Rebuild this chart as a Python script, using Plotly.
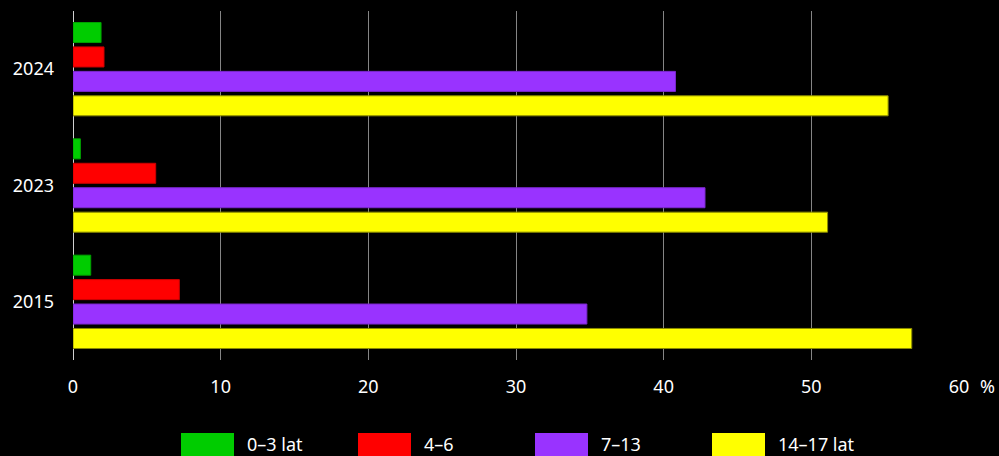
import plotly.graph_objects as go

years = ["2024", "2023", "2015"]
series_names = ["0–3 lat", "4–6", "7–13", "14–17 lat"]
v_0_3 = [1.9, 0.5, 1.2]
v_4_6 = [2.1, 5.6, 7.2]
v_7_13 = [40.8, 42.8, 34.8]
v_14_17 = [55.2, 51.1, 56.8]
x_ticks = [0, 10, 20, 30, 40, 50, 60]

series_values = [v_0_3, v_4_6, v_7_13, v_14_17]
colors = ["#00cc00", "#ff0000", "#9933ff", "#ffff00"]
edge = ["#00a000", "#cc0000", "#7a28cc", "#8a8a00"]

FONT = "Noto Sans"

fig = go.Figure()
for name, vals, c, e in zip(series_names, series_values, colors, edge):
    fig.add_trace(go.Bar(
        y=years, x=vals, name=name, orientation="h",
        marker=dict(color=c, line=dict(color=e, width=1)),
        showlegend=False,
    ))

# custom legend (wide swatches)
L, R, T, B = 73, 40, 11, 96
W, H = 999 - L - R, 456 - T - B
def px(x):
    return (x - L) / W
def py(y):
    return (456 - B - y) / H

sw_left = [181, 358, 535, 712]
shapes = []
annotations = []
for i, (name, c) in enumerate(zip(series_names, colors)):
    x0 = sw_left[i]
    shapes.append(dict(type="rect", xref="paper", yref="paper",
                       x0=px(x0), x1=px(x0 + 53), y0=py(433), y1=py(460),
                       fillcolor=c, line=dict(width=0)))
    annotations.append(dict(xref="paper", yref="paper", x=px(x0 + 64), y=py(444),
                            text=name, showarrow=False, xanchor="left", yanchor="middle",
                            font=dict(family=FONT, size=18, color="white")))

annotations.append(dict(xref="x", yref="paper", x=60, y=py(386), xshift=28,
                        text="%", showarrow=False, xanchor="center", yanchor="middle",
                        font=dict(family=FONT, size=18, color="white")))

fig.update_layout(
    width=999, height=456,
    margin=dict(l=L, r=R, t=T, b=B),
    paper_bgcolor="black", plot_bgcolor="black",
    barmode="group", bargap=0.16, bargroupgap=0.18,
    font=dict(family=FONT, size=18, color="white"),
    shapes=shapes, annotations=annotations,
    xaxis=dict(range=[0, 60], tickvals=x_ticks, showgrid=True, gridcolor="#858585",
               gridwidth=1, zeroline=True, zerolinecolor="#d0d0d0", zerolinewidth=1,
               showline=False, ticks="", ticklabelstandoff=14,
               tickfont=dict(family=FONT, size=18, color="white")),
    yaxis=dict(autorange="reversed", showgrid=False, zeroline=False, showline=False,
               ticks="", ticklabelstandoff=18,
               tickfont=dict(family=FONT, size=18, color="white")),
)

fig.write_html(
    "out.html",
    config={"displayModeBar": False},
    post_script="document.body.style.margin='0';document.body.style.padding='0';"
                "document.body.style.background='black';",
)
